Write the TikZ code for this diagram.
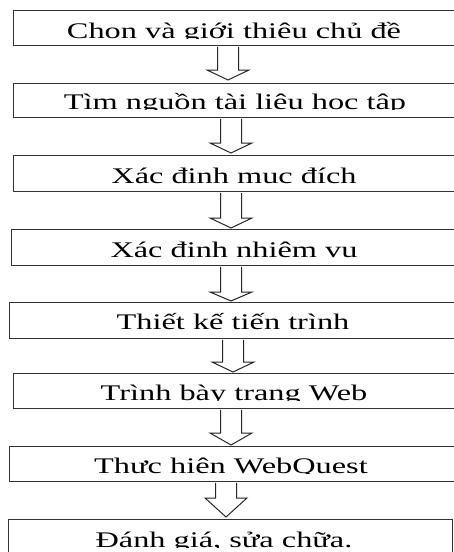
\documentclass[tikz,border=0pt]{standalone}
\usepackage{fontspec}
\setmainfont{Liberation Serif}[FakeStretch=1.45]
\usetikzlibrary{calc}
\newcommand\blkarrow[5]{%
  \draw[blk] let \p1=(#1.south), \p2=(#2.north) in
    (#3pt-10.5pt,\y1-0.6pt) -- (#3pt-10.5pt,-#4pt) -- (#3pt-21pt,-#4pt) -- (#3pt,-#5pt)
    -- (#3pt+21pt,-#4pt) -- (#3pt+10.5pt,-#4pt) -- (#3pt+10.5pt,\y1-0.6pt);}
\newcommand\cliplabel[5]{% box, name, x, baseline, text
  \begin{scope}
    \clip let \p1=(#1.north west) in (\x1,\y1) rectangle (460pt,-#4pt-0.5pt);
    \node[lbl] (#2) at (#3,#4) {#5};
  \end{scope}}
\begin{document}
\begin{tikzpicture}[x=1pt,y=-1pt,
  stepbox/.style={draw=black!80, line width=1.3pt, anchor=north west, inner sep=0pt},
  lbl/.style={anchor=base, inner sep=0pt, font=\fontsize{22.3}{26}\selectfont},
  blk/.style={draw=black!85, line width=1pt, fill=white, line join=miter}]
\useasboundingbox (0,0) rectangle (453,552);
\node[stepbox, minimum width=443pt, minimum height=35pt] (b1) at (13,10) {};
\node[stepbox, minimum width=443pt, minimum height=34pt] (b2) at (13,83) {};
\node[stepbox, minimum width=443pt, minimum height=36pt] (b3) at (13,155) {};
\node[stepbox, minimum width=445pt, minimum height=36pt] (b4) at (11,229) {};
\node[stepbox, minimum width=447pt, minimum height=36pt] (b5) at (9,302) {};
\node[stepbox, minimum width=443pt, minimum height=35pt] (b6) at (13,373) {};
\node[stepbox, minimum width=447pt, minimum height=35pt] (b7) at (9,446) {};
\node[stepbox, minimum width=444pt, minimum height=45pt] (b8) at (8,519) {};
\cliplabel{b1}{t1}{234}{38}{Chọn và giới thiệu chủ đề}
\cliplabel{b2}{t2}{235}{109}{Tìm nguồn tài liệu học tập}
\cliplabel{b3}{t3}{234}{183}{Xác định mục đích}
\cliplabel{b4}{t4}{234}{257}{Xác định nhiệm vụ}
\cliplabel{b5}{t5}{233}{329}{Thiết kế tiến trình}
\cliplabel{b6}{t6}{234}{400}{Trình bày trang Web}
\cliplabel{b7}{t7}{231}{473}{Thực hiện WebQuest}
\cliplabel{b8}{t8}{224}{547}{Đánh giá, sửa chữa.}
\blkarrow{b1}{b2}{228}{70}{80}
\blkarrow{b2}{b3}{231}{143}{153}
\blkarrow{b3}{b4}{231}{218}{228}
\blkarrow{b4}{b5}{231}{292}{301}
\blkarrow{b5}{b6}{233}{362}{372}
\blkarrow{b6}{b7}{231}{433}{445}
\blkarrow{b7}{b8}{226}{498}{517}
\end{tikzpicture}
\end{document}
